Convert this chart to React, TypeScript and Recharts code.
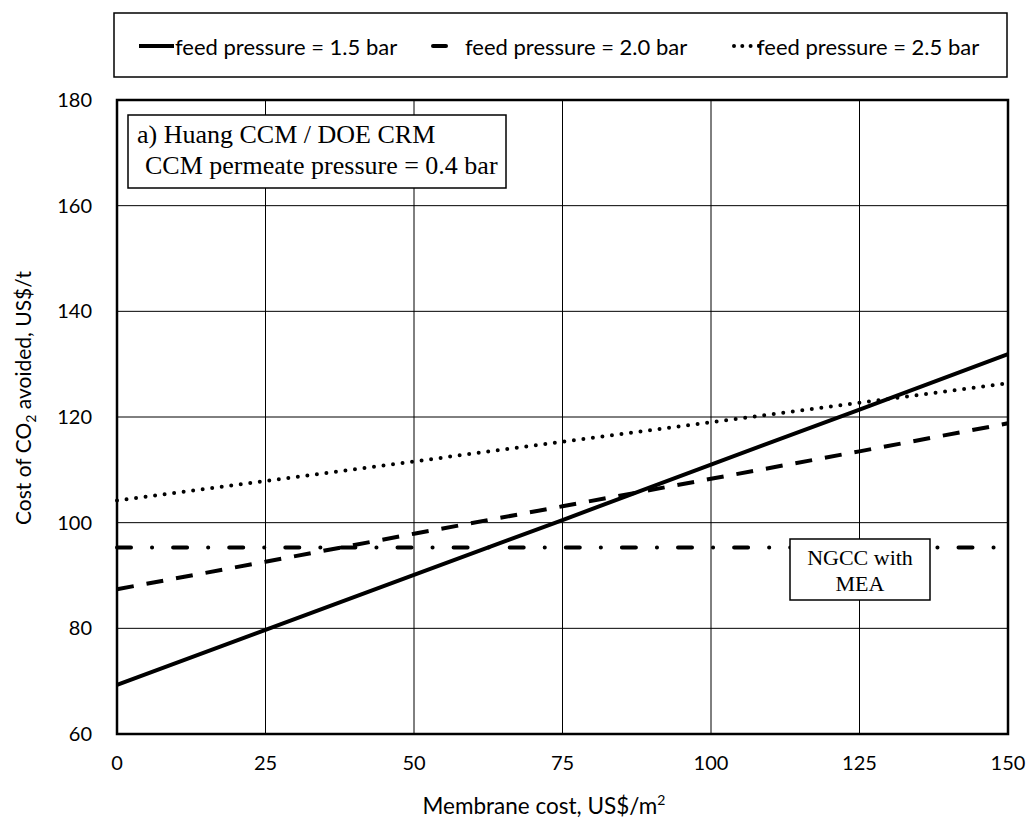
import React from 'react'
import {
  ComposedChart,
  Line,
  XAxis,
  YAxis,
  CartesianGrid,
  Legend,
} from 'recharts'

// membrane cost, US$/m2
const membraneCost = [0, 25, 50, 75, 100, 125, 150]
// cost of CO2 avoided, US$/t
const feed15 = [69.3, 79.7, 90.1, 100.5, 111.0, 121.4, 131.9]
const feed20 = [87.4, 92.6, 97.9, 103.1, 108.3, 113.5, 118.8]
const feed25 = [104.2, 107.9, 111.6, 115.3, 119.0, 122.7, 126.4]
const ngccMea = [95.3, 95.3, 95.3, 95.3, 95.3, 95.3, 95.3]

const xTicks = [0, 25, 50, 75, 100, 125, 150]
const yTicks = [60, 80, 100, 120, 140, 160, 180]

const data = membraneCost.map((x, i) => ({
  x,
  p15: feed15[i],
  p20: feed20[i],
  p25: feed25[i],
  ngcc: ngccMea[i],
}))

const SANS = 'Lato, "Open Sans", sans-serif'
const SERIF = '"Liberation Serif", "DejaVu Serif", serif'

const legendItems = [
  { label: 'feed pressure = 1.5 bar', dash: undefined, cap: 'butt', sx: 139, sw: 35, tx: 175 },
  { label: 'feed pressure = 2.0 bar', dash: undefined, cap: 'round', sx: 433, sw: 13, tx: 465 },
  { label: 'feed pressure = 2.5 bar', dash: '0 8.3', cap: 'round', sx: 734, sw: 25, tx: 757 },
]

function LegendBox() {
  return (
    <svg width={895} height={66} style={{ display: 'block' }}>
      <rect x={1} y={1} width={893} height={64} fill="#fff" stroke="#000" strokeWidth={1.5} />
      {legendItems.map((it) => (
        <g key={it.label}>
          <line
            x1={it.sx - 113}
            x2={it.sx - 113 + it.sw}
            y1={34}
            y2={34}
            stroke="#000"
            strokeWidth={4}
            strokeDasharray={it.dash}
            strokeLinecap={it.cap as any}
          />
          <text x={it.tx - 113} y={34} dominantBaseline="central" fontFamily={SANS} fontSize={22} fill="#000">
            {it.label}
          </text>
        </g>
      ))}
    </svg>
  )
}

export default function App() {
  return (
    <div style={{ position: 'absolute', left: 0, top: 0, width: 1031, height: 821, background: '#fff' }}>
      <ComposedChart
        width={1031}
        height={821}
        data={data}
        margin={{ top: 100, right: 23, left: 0, bottom: 0 }}
      >
        <CartesianGrid stroke="#000" strokeWidth={1} />
        <XAxis
          dataKey="x"
          type="number"
          domain={[0, 150]}
          ticks={xTicks}
          height={87}
          axisLine={false}
          tickLine={false}
          tickMargin={16}
          tick={{ fill: '#000', fontSize: 20, fontFamily: SANS }}
        />
        <YAxis
          type="number"
          domain={[60, 180]}
          ticks={yTicks}
          width={117}
          axisLine={false}
          tickLine={false}
          tickMargin={19}
          tick={{ fill: '#000', fontSize: 20, fontFamily: SANS }}
        />
        <Legend
          layout="horizontal"
          verticalAlign="middle"
          align="center"
          wrapperStyle={{ position: 'absolute', left: 113, top: 12, width: 895, height: 66 }}
          content={() => <LegendBox />}
        />
        <Line
          dataKey="ngcc"
          stroke="#000"
          strokeWidth={4}
          strokeDasharray="14 21 0.1 21"
          strokeLinecap="round"
          dot={false}
          isAnimationActive={false}
          legendType="none"
        />
        <Line dataKey="p25" stroke="#000" strokeWidth={4} strokeDasharray="0 9.6" strokeLinecap="round" dot={false} isAnimationActive={false} />
        <Line dataKey="p20" stroke="#000" strokeWidth={4} strokeDasharray="17 13" dot={false} isAnimationActive={false} />
        <Line dataKey="p15" stroke="#000" strokeWidth={4} dot={false} isAnimationActive={false} />
      </ComposedChart>
      <svg width={1031} height={821} style={{ position: 'absolute', left: 0, top: 0, pointerEvents: 'none' }}>
        <rect x={117} y={100} width={891} height={634} fill="none" stroke="#000" strokeWidth={2.5} />
        {/* annotation a) */}
        <rect x={128} y={115} width={378} height={73} fill="#fff" stroke="#000" strokeWidth={1.5} />
        <text x={137} y={143} fontFamily={SERIF} fontSize={26} fill="#000">a) Huang CCM / DOE CRM</text>
        <text x={145} y={174} fontFamily={SERIF} fontSize={26} fill="#000">CCM permeate pressure = 0.4 bar</text>
        {/* NGCC box */}
        <rect x={790} y={539} width={140} height={61} fill="#fff" stroke="#000" strokeWidth={1.5} />
        <text x={860} y={565} textAnchor="middle" fontFamily={SERIF} fontSize={22} fill="#000">NGCC with</text>
        <text x={860} y={591} textAnchor="middle" fontFamily={SERIF} fontSize={22} fill="#000">MEA</text>
        {/* axis titles */}
        <text transform="translate(31,398) rotate(-90)" textAnchor="middle" fontFamily={SANS} fontSize={21} fill="#000">
          Cost of CO<tspan fontSize={14} dy={5}>2</tspan>
          <tspan dy={-5}> avoided, US$/t</tspan>
        </text>
        <text x={544} y={814} textAnchor="middle" fontFamily={SANS} fontSize={22.5} fill="#000">
          Membrane cost, US$/m<tspan fontSize={14} dy={-9}>2</tspan>
        </text>
      </svg>
    </div>
  )
}
